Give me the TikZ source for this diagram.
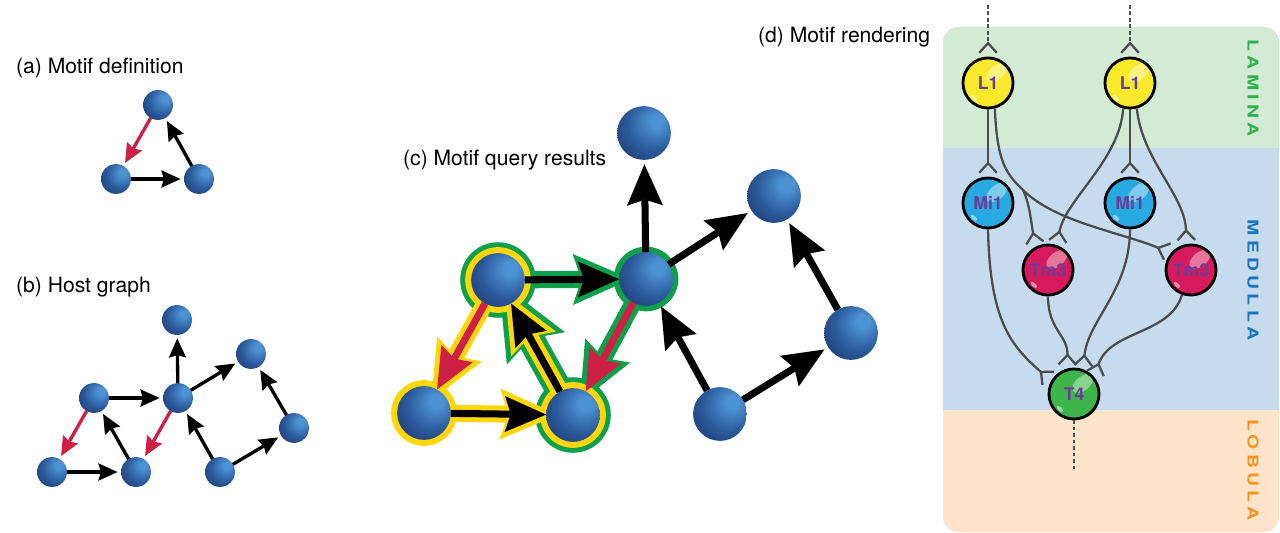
\documentclass[tikz,border=0pt]{standalone}
\usepackage{fontspec}
\setmainfont{TeX Gyre Heros}
\newfontfamily\regionfont[LetterSpace=22]{TeX Gyre Heros}
\usetikzlibrary{arrows.meta}

\definecolor{ballhi}{HTML}{4D92D3}
\definecolor{ballmid}{HTML}{2B5A9C}
\definecolor{balldark}{HTML}{1B3263}
\definecolor{motifred}{HTML}{CE1F45}
\definecolor{matchyellow}{HTML}{FFD60A}
\definecolor{matchgreen}{HTML}{0E9F4A}
\definecolor{laminabg}{HTML}{D3EBD5}
\definecolor{medullabg}{HTML}{C6DCEE}
\definecolor{lobulabg}{HTML}{FDE4CA}
\definecolor{laminatext}{HTML}{2DB34A}
\definecolor{medullatext}{HTML}{1B75BC}
\definecolor{lobulatext}{HTML}{F7941D}
\definecolor{wiregray}{HTML}{4A4D50}
\definecolor{cellpurple}{HTML}{6A3D9A}
\definecolor{lonecolor}{HTML}{F8EA2A}
\definecolor{mionecolor}{HTML}{27AAE1}
\definecolor{tmthreecolor}{HTML}{D71A5B}
\definecolor{tfourcolor}{HTML}{3DB54A}

\pgfdeclareradialshading{blueball}{\pgfpoint{13bp}{12bp}}{%
  color(0bp)=(ballhi); color(6bp)=(ballhi); color(24bp)=(ballmid);
  color(44bp)=(balldark); color(65bp)=(balldark)}

\pgfdeclarelayer{outer}
\pgfdeclarelayer{inner}
\pgfsetlayers{outer,inner,main}

\tikzset{
  hostball/.style={circle, inner sep=0pt, outer sep=0pt, minimum size=17pt, shade, shading=blueball},
  queryball/.style={hostball, minimum size=30.6pt},
  hostarrow/.style={line width=1.9pt, shorten >=2pt,
    -{Stealth[length=11pt, width=10pt, inset=1.5pt, line width=0pt]}},
  bigarrow/.style={line width=4pt, shorten >=2.5pt,
    -{Stealth[length=23.5pt, width=20.5pt, inset=3.4pt, line width=0pt]}},
  halo/.style={line width=9.7pt, shorten >=-7pt,
    -{Stealth[length=33.4pt, width=29.1pt, inset=4.9pt, line width=0pt]}},
  widehalo/.style={line width=15.4pt, shorten >=-14.2pt,
    -{Stealth[length=43.4pt, width=37.9pt, inset=6.4pt, line width=0pt]}},
  cell/.style={circle, draw=black, line width=1.6pt, minimum size=28.5pt, inner sep=0pt,
    text=cellpurple, font=\bfseries\fontsize{10}{11}\selectfont,
    path picture={
      \fill[white, fill opacity=.4] ([shift={(5pt,6pt)}]path picture bounding box.center)
        circle[x radius=7pt, y radius=4pt, rotate=40];
      \fill[white, fill opacity=.5] ([shift={(-8pt,-8.5pt)}]path picture bounding box.center)
        circle[x radius=2.2pt, y radius=1.1pt, rotate=-45];}},
  wire/.style={draw=wiregray, line width=1.3pt, shorten >=1.5pt,
    -{Straight Barb[reversed, length=5.5pt, width=10pt]}},
  axon/.style={draw=wiregray, line width=1.3pt, dash pattern=on 2pt off 1.7pt},
  region/.style={rotate=-90, font=\regionfont\bfseries\fontsize{8.5}{9}\selectfont},
  paneltitle/.style={anchor=west, font=\fontsize{12}{14}\selectfont}
}

\begin{document}
\begin{tikzpicture}[x=0.02cm, y=-0.02cm]
\useasboundingbox (0,0) rectangle (1280,533);

% (a)
\node[paneltitle] (titleA) at (10,68) {(a) Motif definition};
\node[hostball] (aT) at (158,105) {};
\node[hostball] (aL) at (116,179) {};
\node[hostball] (aR) at (199,179) {};
\draw[hostarrow, draw=motifred] (aT) -- (aL);
\draw[hostarrow] (aL) -- (aR);
\draw[hostarrow] (aR) -- (aT);

% (b)
\node[paneltitle] (titleB) at (10,287) {(b) Host graph};
\node[hostball] (bT) at (177,320) {};
\node[hostball] (bUR) at (251,354) {};
\node[hostball] (bL) at (94,398) {};
\node[hostball] (bC) at (178,398) {};
\node[hostball] (bR) at (294,428) {};
\node[hostball] (bBL) at (52,472) {};
\node[hostball] (bBM) at (136,472) {};
\node[hostball] (bBR) at (220,472) {};
\draw[hostarrow] (bL) -- (bC);
\draw[hostarrow, draw=motifred] (bL) -- (bBL);
\draw[hostarrow] (bBL) -- (bBM);
\draw[hostarrow] (bBM) -- (bL);
\draw[hostarrow, draw=motifred] (bC) -- (bBM);
\draw[hostarrow] (bC) -- (bT);
\draw[hostarrow] (bC) -- (bUR);
\draw[hostarrow] (bBR) -- (bC);
\draw[hostarrow] (bBR) -- (bR);
\draw[hostarrow] (bR) -- (bUR);

% (c)
\node[paneltitle] (titleC) at (397,160) {(c) Motif query results};
\node[queryball] (cT) at (644,133) {};
\node[queryball] (cUR) at (774,196) {};
\node[queryball] (cA) at (498,280) {};
\node[queryball] (cC) at (646,279) {};
\node[queryball] (cR) at (851,333) {};
\node[queryball] (cBL) at (424,413) {};
\node[queryball] (cBM) at (573,415) {};
\node[queryball] (cBR) at (720,414) {};
\begin{pgfonlayer}{outer}
  \fill[matchgreen] (cA) circle[radius=21.5pt];
  \fill[matchgreen] (cBM) circle[radius=21.5pt];
  \fill[matchgreen] (cC) circle[radius=18.4pt];
  \draw[halo, draw=matchgreen] (cA) -- (cC);
  \draw[halo, draw=matchgreen] (cC) -- (cBM);
  \draw[widehalo, draw=matchgreen] (cBM) -- (cA);
\end{pgfonlayer}
\begin{pgfonlayer}{inner}
  \fill[matchyellow] (cA) circle[radius=18.7pt];
  \fill[matchyellow] (cBM) circle[radius=18.7pt];
  \fill[matchyellow] (cBL) circle[radius=18.7pt];
  \draw[halo, draw=matchyellow] (cA) -- (cBL);
  \draw[halo, draw=matchyellow] (cBL) -- (cBM);
  \draw[halo, draw=matchyellow] (cBM) -- (cA);
\end{pgfonlayer}
\draw[bigarrow] (cC) -- (cT);
\draw[bigarrow] (cC) -- (cUR);
\draw[bigarrow] (cBR) -- (cC);
\draw[bigarrow] (cBR) -- (cR);
\draw[bigarrow] (cR) -- (cUR);
\draw[bigarrow, shorten >=0pt] (cA) -- (cC);
\draw[bigarrow, shorten >=0pt, draw=motifred] (cC) -- (cBM);
\draw[bigarrow, shorten >=0pt] (cBM) -- (cA);
\draw[bigarrow, shorten >=0pt, draw=motifred] (cA) -- (cBL);
\draw[bigarrow, shorten >=0pt] (cBL) -- (cBM);

% (d)
\node[paneltitle] (titleD) at (752,37) {(d) Motif rendering};
\begin{scope}
  \clip[rounded corners=8.5pt] (943,27) rectangle (1279,532);
  \fill[laminabg] (943,27) rectangle (1279,148);
  \fill[medullabg] (943,148) rectangle (1279,410);
  \fill[lobulabg] (943,410) rectangle (1279,532);
\end{scope}
\node[region, text=laminatext] (lamina) at (1253,88) {\scalebox{1.3}[1]{LAMINA}};
\node[region, text=medullatext] (medulla) at (1253,280) {\scalebox{1.3}[1]{MEDULLA}};
\node[region, text=lobulatext] (lobula) at (1253,470) {\scalebox{1.3}[1]{LOBULA}};

\node[cell, fill=lonecolor] (L1a) at (988,83) {L1};
\node[cell, fill=lonecolor] (L1b) at (1130,83) {L1};
\node[cell, fill=mionecolor] (Mi1a) at (988,203) {Mi1};
\node[cell, fill=mionecolor] (Mi1b) at (1130,203) {Mi1};
\node[cell, fill=tmthreecolor] (Tm3a) at (1048,270) {Tm3};
\node[cell, fill=tmthreecolor] (Tm3b) at (1191,270) {Tm3};
\node[cell, fill=tfourcolor] (T4) at (1074,394) {T4};
\coordinate (inA) at (988,5);
\coordinate (inB) at (1130,5);
\coordinate (outT) at (1074,470);
\coordinate (br1) at (1023,190);

\draw[axon, wire] (inA) -- (L1a);
\draw[axon, wire] (inB) -- (L1b);
\draw[wire] (L1a) -- (Mi1a);
\draw[wire] (L1b) -- (Mi1b);
\draw[wire] (L1a.-75) .. controls (997,160) and (1005,173) .. (br1)
  .. controls (1055,222) and (1120,232) .. (Tm3b.140);
\draw[wire] (br1) .. controls (1030,205) and (1031,222) .. (Tm3a.118);
\draw[wire] (L1b.-105) .. controls (1120,160) and (1065,200) .. (Tm3a.70);
\draw[wire] (L1b.-75) .. controls (1142,160) and (1185,195) .. (Tm3b.100);
\draw[wire] (Mi1a.-90) .. controls (990,320) and (1010,345) .. (T4.150);
\draw[wire] (Tm3a.-90) .. controls (1048,330) and (1068,335) .. (T4.105);
\draw[wire] (Mi1b.-90) .. controls (1130,290) and (1088,320) .. (T4.70);
\draw[wire] (Tm3b.-110) .. controls (1170,335) and (1110,330) .. (T4.40);
\draw[axon] (T4) -- (outT);
\end{tikzpicture}
\end{document}
